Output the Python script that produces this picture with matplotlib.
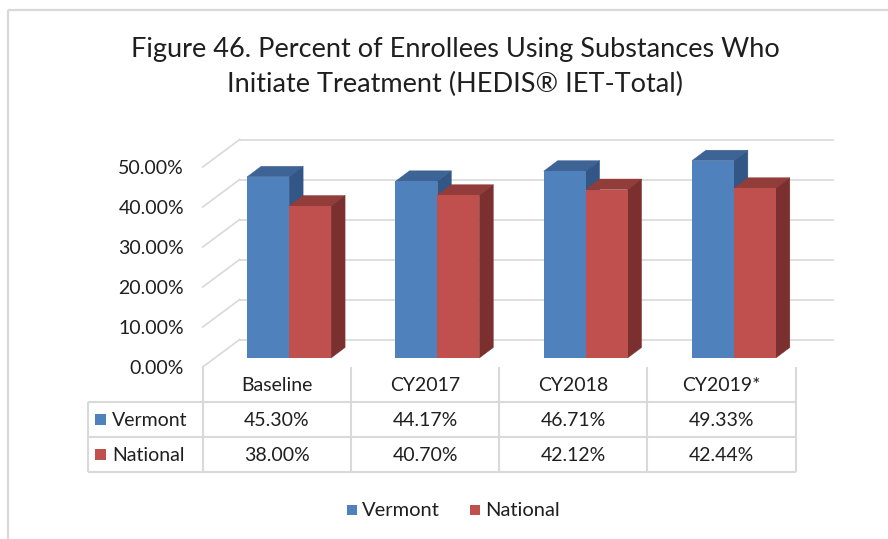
import matplotlib
matplotlib.use('Agg')
import matplotlib.pyplot as plt
from matplotlib.patches import Polygon, Rectangle

# ---------------- data ----------------
categories = ['Baseline', 'CY2017', 'CY2018', 'CY2019*']
series_names = ['Vermont', 'National']
vermont = [45.30, 44.17, 46.71, 49.33]
national = [38.00, 40.70, 42.12, 42.44]
yticks = [0, 10, 20, 30, 40, 50]
title = 'Figure 46. Percent of Enrollees Using Substances Who\nInitiate Treatment (HEDIS® IET-Total)'

# ---------------- style ----------------
plt.rcParams['font.family'] = ['Lato', 'DejaVu Sans']
TXT = '#1f1f1f'
GRID = '#d9d9d9'
front_cols = ['#4F81BD', '#C0504D']
top_cols = ['#3D6494', '#923D3A']
side_cols = ['#325786', '#7B302F']
FS = 14

W, H = 888, 539
fig = plt.figure(figsize=(W / 100, H / 100), dpi=100)

# pixel overlay axes (behind)
pax = fig.add_axes([0, 0, 1, 1], zorder=0)
pax.set_xlim(0, W)
pax.set_ylim(H, 0)
pax.axis('off')

# front plane of bars
ax = fig.add_axes([215 / W, (H - 358) / H, 593 / W, 200 / H], zorder=1)
ax.set_xlim(-0.5, len(categories) - 0.5)
ax.set_ylim(0, 50)
ax.axis('off')
ax.patch.set_alpha(0)


def to_px(x, v, dx=0.0, dy=0.0):
    X, Y = ax.transData.transform((x, v))
    return X + dx, H - Y - dy


FRONT = (-12.3, -9.0)   # floor front edge offset relative to bar plane
BACK = (24.7, 18.5)     # back wall offset
BD = (14.0, 10.5)       # bar depth offset

# frame
pax.plot([8, 8], [10, H], color=GRID, lw=1.6, solid_capstyle='butt', zorder=1)
pax.plot([8, W], [10, 10], color=GRID, lw=1.6, solid_capstyle='butt', zorder=1)

# gridlines (back wall + side wall)
x0, x1 = -0.5, len(categories) - 0.5
for v in yticks:
    a = to_px(x0, v, *BACK)
    b = to_px(x1, v, *BACK)
    c = to_px(x0, v, *FRONT)
    pax.plot([a[0], b[0]], [a[1], b[1]], color=GRID, lw=1.2, zorder=1)
    pax.plot([c[0], a[0]], [c[1], a[1]], color=GRID, lw=1.2, zorder=1)
    pax.text(184, c[1] + 1, f'{v:.2f}%', ha='right', va='center',
             fontsize=FS, color=TXT)

# bars
bw = 0.283
series = [vermont, national]
for s, vals in enumerate(series):
    xs = [i - bw + s * bw for i in range(len(categories))]
    for xl, v in zip(xs, vals):
        xr = xl + bw
        # top face
        p1 = to_px(xl, v); p2 = to_px(xr, v)
        p3 = to_px(xr, v, *BD); p4 = to_px(xl, v, *BD)
        pax.add_patch(Polygon([p1, p2, p3, p4], closed=True, zorder=3,
                              facecolor=top_cols[s], edgecolor=top_cols[s],
                              lw=0.3))
        # side face
        q1 = to_px(xr, v); q2 = to_px(xr, 0)
        q3 = to_px(xr, 0, *BD); q4 = to_px(xr, v, *BD)
        pax.add_patch(Polygon([q1, q2, q3, q4], closed=True, zorder=3,
                              facecolor=side_cols[s], edgecolor=side_cols[s],
                              lw=0.3))
    ax.bar(xs, vals, width=bw, align='edge', color=front_cols[s],
           edgecolor='none')

# data table
row_y = [402, 437, 472]
hdr_top = to_px(x0, 0, *FRONT)[1]
bounds = [to_px(x0 + k, 0, *FRONT)[0] for k in range(len(categories) + 1)]
left_x = 88
for xb in bounds:
    pax.plot([xb, xb], [hdr_top, row_y[-1]], color=GRID, lw=1.5,
             solid_capstyle='butt', zorder=1)
pax.plot([left_x, left_x], [row_y[0], row_y[-1]], color=GRID, lw=1.5,
         solid_capstyle='butt', zorder=1)
for yy in row_y:
    pax.plot([left_x, bounds[-1]], [yy, yy], color=GRID, lw=1.5,
             solid_capstyle='butt', zorder=1)

for i, cat in enumerate(categories):
    cx = (bounds[i] + bounds[i + 1]) / 2
    pax.text(cx, (hdr_top + row_y[0]) / 2 + 1, cat, ha='center', va='center',
             fontsize=FS, color=TXT)
    for r, vals in enumerate(series):
        pax.text(cx, (row_y[r] + row_y[r + 1]) / 2 + 1, f'{vals[i]:.2f}%',
                 ha='center', va='center', fontsize=FS, color=TXT)

for r, name in enumerate(series_names):
    yc = (row_y[r] + row_y[r + 1]) / 2
    pax.add_patch(Rectangle((95, yc - 5.5), 11, 11, facecolor=front_cols[r],
                            edgecolor='none'))
    pax.text(112, yc + 1, name, ha='left', va='center', fontsize=FS, color=TXT)

# legend
leg_x = [347, 470]
for s, name in enumerate(series_names):
    pax.add_patch(Rectangle((leg_x[s], 505), 10, 10, facecolor=front_cols[s],
                            edgecolor='none'))
    pax.text(leg_x[s] + 15, 511, name, ha='left', va='center', fontsize=14.5,
             color=TXT)

# title
pax.text(455, 67, title, ha='center', va='center', fontsize=19.5,
         color=TXT, linespacing=1.5)

fig.savefig('out.png', dpi=100)
